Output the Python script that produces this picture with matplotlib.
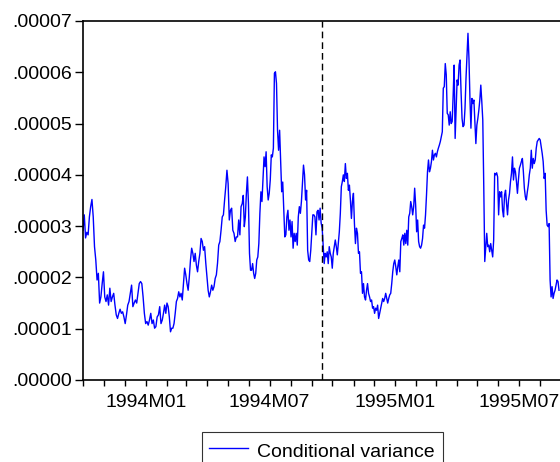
import matplotlib
matplotlib.use('Agg')
import matplotlib.pyplot as plt
import matplotlib.dates as mdates
from matplotlib.ticker import FuncFormatter, MultipleLocator
import pandas as pd
import numpy as np

plt.rcParams['font.family'] = ['Liberation Sans', 'DejaVu Sans']

# ---- data (conditional variance, in units of 1e-5) ----
segment_bounds = ['1993-10-01', '1994-01-25', '1994-05-22', '1994-09-16',
                  '1995-01-12', '1995-05-09', '1995-08-30']

seg1 = [2.92, 3.22, 2.77, 2.88, 2.83, 3.18, 3.38, 3.52, 3.18, 2.60, 2.34, 1.95,
        2.08, 1.50, 1.62, 1.88, 2.11, 1.62, 1.53, 1.66, 1.46, 1.79, 1.53, 1.62,
        1.69, 1.46, 1.27, 1.20, 1.30, 1.38, 1.30, 1.33, 1.23, 1.10, 1.27, 1.46,
        1.53, 1.69, 1.85, 1.43, 1.50, 1.56, 1.50, 1.69, 1.88, 1.92, 1.88, 1.62,
        1.30, 1.10, 1.14, 1.07, 1.17, 1.30, 1.10, 1.17, 1.01, 1.04, 1.23, 1.27,
        1.43, 1.10]

seg2 = [1.17, 1.30, 1.46, 1.30, 1.50, 1.43, 1.23, 0.94, 1.01, 1.01, 1.10, 1.30,
        1.53, 1.59, 1.72, 1.62, 1.69, 1.56, 1.88, 2.18, 2.05, 1.88, 1.75, 2.01,
        2.34, 2.57, 2.47, 2.31, 2.47, 2.24, 2.11, 2.31, 2.47, 2.76, 2.70, 2.53,
        2.60, 2.28, 2.01, 1.75, 1.62, 1.72, 1.85, 1.75, 1.82, 1.98, 2.05, 2.28,
        2.63, 2.70, 2.92, 3.18, 3.22, 3.51, 3.77, 4.09, 3.83, 3.12, 3.31, 3.35,
        2.92, 2.86, 2.70, 2.79, 2.79, 3.12, 2.83, 3.38]

seg3 = [3.44, 3.60, 2.99, 3.18, 3.64, 3.96, 3.44, 2.47, 2.14, 2.14, 2.27, 2.08,
        1.98, 2.08, 2.34, 2.40, 2.66, 3.25, 3.67, 3.48, 3.90, 4.35, 4.16, 4.45,
        3.77, 3.51, 3.64, 3.90, 4.39, 4.35, 4.52, 5.98, 6.01, 5.78, 4.87, 4.48,
        4.87, 4.29, 3.67, 3.86, 3.31, 2.79, 2.83, 3.18, 3.31, 2.92, 3.12, 2.79,
        3.09, 2.57, 2.86, 2.70, 2.86, 2.63, 3.18, 3.38, 3.25, 3.48, 3.83, 4.19,
        4.00, 3.51, 3.70, 2.53, 2.34, 2.31, 2.53, 2.86, 3.22, 3.22, 3.18, 2.83,
        3.28, 3.31, 3.12, 3.35, 3.06]

seg4 = [2.96, 2.60, 2.27, 2.47, 2.40, 2.50, 2.27, 2.60, 2.47, 2.40, 2.18, 2.47,
        2.60, 2.73, 2.60, 2.44, 2.66, 2.89, 3.25, 3.77, 3.87, 4.00, 3.87, 4.22,
        3.93, 4.03, 3.70, 3.80, 3.51, 3.15, 3.48, 3.64, 3.05, 2.66, 2.96, 2.86,
        2.47, 2.50, 2.08, 2.11, 1.69, 1.88, 1.62, 1.56, 1.75, 1.88, 1.69, 1.62,
        1.53, 1.56, 1.40, 1.43, 1.30, 1.40, 1.36, 1.46, 1.20, 1.30, 1.40, 1.50,
        1.59, 1.53, 1.59, 1.69, 1.59, 1.50, 1.59, 1.66, 1.69, 1.88, 2.11, 2.27,
        2.34, 2.21, 2.05, 2.21, 2.34, 2.11, 2.70, 2.76]

seg5 = [2.83, 2.63, 2.86, 2.66, 2.92, 2.63, 3.18, 3.25, 3.48, 3.38, 3.22, 3.38,
        3.74, 3.41, 2.89, 3.12, 2.70, 2.60, 2.57, 2.63, 2.76, 3.02, 2.96, 3.22,
        3.61, 4.06, 4.29, 4.06, 4.13, 4.26, 4.48, 4.29, 4.39, 4.42, 4.35, 4.45,
        4.52, 4.58, 4.65, 4.74, 4.84, 5.69, 5.72, 6.17, 5.95, 5.20, 5.17, 4.97,
        5.23, 5.00, 5.04, 5.56, 6.14, 4.71, 5.30, 5.85, 5.75, 6.14, 6.24, 5.62,
        5.10, 4.94, 4.97, 5.30, 5.88, 6.34, 6.76, 6.27, 5.49, 4.91, 5.49, 5.39,
        5.46, 5.04, 4.61, 4.97, 5.10, 5.26, 5.46, 5.75, 5.43]

seg6 = [5.07, 3.77, 2.31, 2.60, 2.86, 2.60, 2.63, 2.50, 2.66, 2.53, 2.40, 2.73,
        4.03, 4.00, 4.04, 3.96, 3.22, 3.67, 3.57, 3.67, 3.31, 3.18, 3.61, 3.70,
        3.44, 3.22, 3.51, 3.64, 3.87, 4.03, 4.35, 3.90, 4.13, 4.06, 3.87, 3.64,
        3.90, 4.13, 4.19, 4.26, 4.32, 4.06, 3.74, 3.57, 3.51, 3.67, 3.80, 4.00,
        4.13, 4.48, 4.13, 4.32, 4.22, 4.29, 4.52, 4.65, 4.68, 4.71, 4.68, 4.55,
        4.42, 4.26, 3.93, 4.03, 3.31, 3.02, 2.99, 3.05, 1.95, 1.62, 1.82, 1.59,
        1.69, 1.75, 1.85, 1.95, 1.92, 1.75]

segments = [seg1, seg2, seg3, seg4, seg5, seg6]
value_scale = 1e-5
break_date = '1994-09-16'
series_label = 'Conditional variance'
x_start, x_end = '1993-10-01', '1995-08-30'
y_max = 7e-5
y_step = 1e-5
labelled_months = (1, 7)

# ---- assemble series ----
dates = []
values = []
for i, seg in enumerate(segments):
    d = pd.date_range(segment_bounds[i], segment_bounds[i + 1], periods=len(seg) + 1)[:-1]
    dates.extend(d)
    values.extend(seg)
dates = pd.DatetimeIndex(dates)
values = np.array(values) * value_scale

# ---- figure ----
fig = plt.figure(figsize=(5.6, 4.62), dpi=100)
ax = fig.add_axes([83 / 560, 82 / 462, 477 / 560, 359 / 462])

ax.plot(dates, values, color='#0000ff', lw=1.0, label=series_label)
ax.axvline(pd.Timestamp(break_date), color='black', lw=1.0, dashes=(4.8, 2.9))

ax.set_xlim(pd.Timestamp(x_start), pd.Timestamp(x_end))
ax.set_ylim(0, y_max)

ax.yaxis.set_major_locator(MultipleLocator(y_step))
ax.yaxis.set_major_formatter(FuncFormatter(lambda v, p: f"{v:.5f}"[1:]))


def xfmt(v, p):
    d = mdates.num2date(v)
    if d.month in labelled_months:
        return f"{d.year}M{d.month:02d}"
    return ""


ax.xaxis.set_major_locator(mdates.MonthLocator())
ax.xaxis.set_major_formatter(FuncFormatter(xfmt))

for s in ('left', 'top', 'bottom'):
    ax.spines[s].set_linewidth(1.2)
    ax.spines[s].set_color('black')
ax.spines['right'].set_visible(False)

ax.tick_params(axis='y', direction='out', length=6, width=1.0, pad=2,
               labelsize=14, colors='black')
ax.tick_params(axis='x', direction='out', length=4, width=1.0, pad=6,
               labelsize=14, colors='black')

leg = fig.legend(loc='upper left', bbox_to_anchor=(201.7 / 560, 1 - 431.7 / 462),
                 frameon=True, fancybox=False, edgecolor='black', fontsize=14,
                 handlelength=2.0, handletextpad=0.45, borderpad=0.4,
                 handleheight=1.4, borderaxespad=0)
leg.get_frame().set_linewidth(0.8)

fig.savefig('out.png', dpi=100)
